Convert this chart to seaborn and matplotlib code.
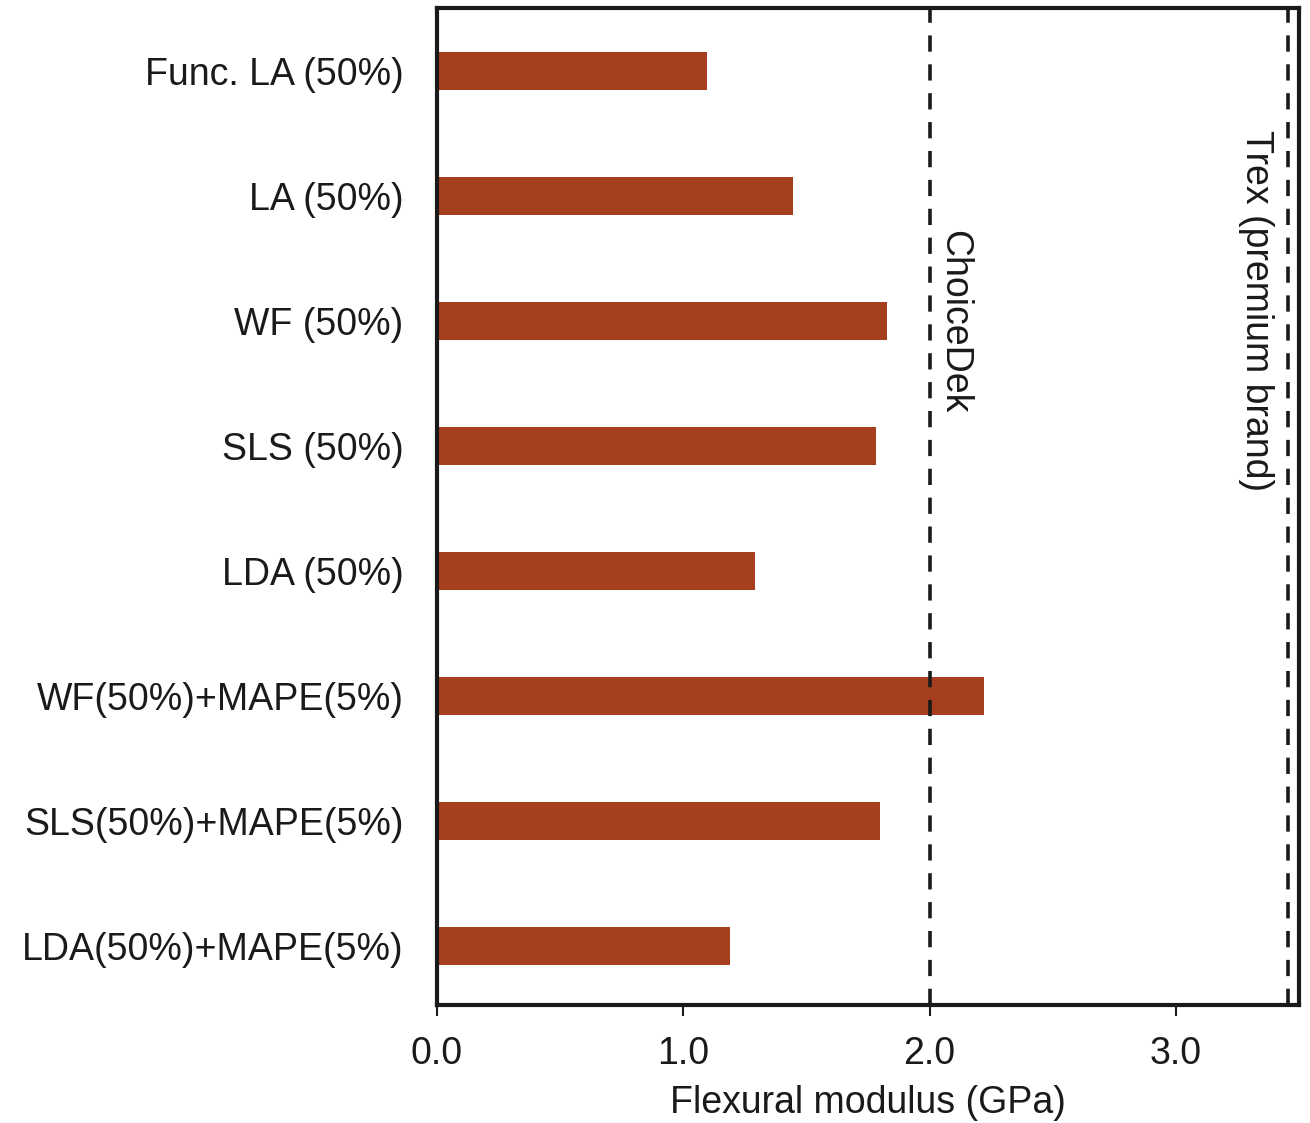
import matplotlib
matplotlib.use("Agg")
import matplotlib.pyplot as plt
import seaborn as sns
import pandas as pd

categories = [
    "Func. LA (50%)",
    "LA (50%)",
    "WF (50%)",
    "SLS (50%)",
    "LDA (50%)",
    "WF(50%)+MAPE(5%)",
    "SLS(50%)+MAPE(5%)",
    "LDA(50%)+MAPE(5%)",
]
modulus = [1.095, 1.447, 1.828, 1.783, 1.293, 2.22, 1.797, 1.188]

reference_names = ["ChoiceDek", "Trex (premium brand)"]
reference_values = [2.0, 3.455]

x_ticks = [0.0, 1.0, 2.0, 3.0]
x_tick_labels = ["0.0", "1.0", "2.0", "3.0"]

sns.set_style("ticks")
plt.rcParams["font.family"] = ["Liberation Sans", "DejaVu Sans"]

df = pd.DataFrame({"material": categories, "modulus": modulus})

fig = plt.figure(figsize=(13.1, 11.23), dpi=100)
ax = fig.add_axes([0.3336, 0.1051, 0.658, 0.8878])

sns.barplot(data=df, y="material", x="modulus", orient="h", color="#A63F1F",
            saturation=1, width=0.3, ax=ax, edgecolor="none")

for val in reference_values:
    ax.axvline(val, color="#1a1a1a", linestyle=(0, (4.5, 3.5)), linewidth=2.6, zorder=3)

ax.text(reference_values[0] + 0.025, 1.27, reference_names[0], rotation=-90,
        ha="left", va="top", fontsize=27, color="#1a1a1a")
ax.text(reference_values[1] - 0.055, 0.47, reference_names[1], rotation=-90,
        ha="right", va="top", fontsize=27, color="#1a1a1a")

ax.set_xlim(0, 3.5)
ax.set_ylim(7.47, -0.505)
ax.set_xticks(x_ticks)
ax.set_xticklabels(x_tick_labels)
ax.tick_params(axis="x", labelsize=27, length=8, width=1.5, direction="out",
               colors="#1a1a1a", pad=14)
ax.tick_params(axis="y", labelsize=27, length=0, pad=24, colors="#1a1a1a")
ax.set_ylabel("")
ax.set_xlabel("Flexural modulus (GPa)", fontsize=27, color="#1a1a1a", labelpad=10)

for side in ["left", "right", "top", "bottom"]:
    ax.spines[side].set_visible(True)
    ax.spines[side].set_linewidth(3)
    ax.spines[side].set_color("#1a1a1a")

fig.savefig("out.png", dpi=100)
